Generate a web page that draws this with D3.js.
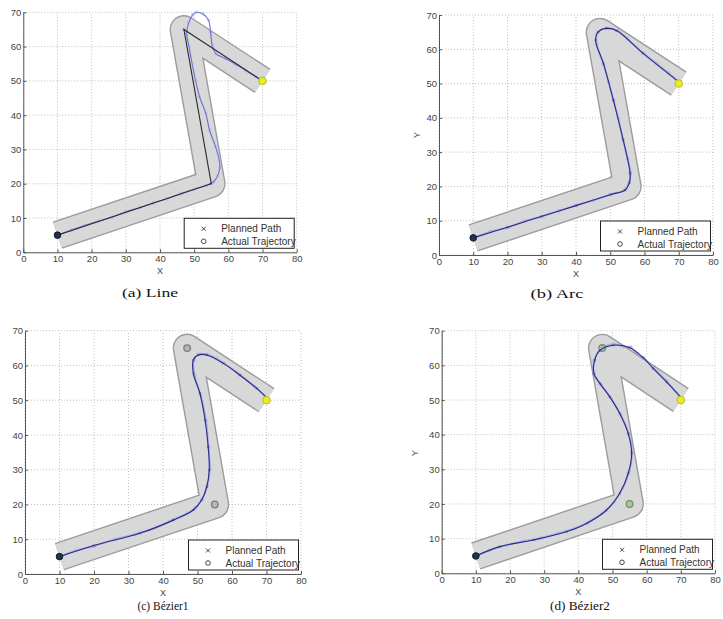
<!DOCTYPE html>
<html>
<head>
<meta charset="utf-8">
<script src="https://cdnjs.cloudflare.com/ajax/libs/d3/7.8.5/d3.min.js"></script>
<style>
  body { margin: 0; background: #fff; }
</style>
</head>
<body>
<div id="chart"></div>
<script>
// ---- data ----
var xTicks = [0, 10, 20, 30, 40, 50, 60, 70, 80];
var yTicks = [0, 10, 20, 30, 40, 50, 60, 70];
var captions = ["(a) Line", "(b) Arc", "(c) Bézier1", "(d) Bézier2"];
var legendLabels = ["Planned Path", "Actual Trajectory"];

// corridor centre line (also the planned path of the "Line" case)
var corridor = [[10, 5], [55, 20], [47, 65], [70, 50]];
var startPoint = [10, 5];
var goalPoint = [70, 50];
var controlPoints = [[47, 65], [55, 20]];

var actualLine = [[10, 5], [14, 6.5], [18, 7.8], [22, 9.1], [26, 10.3], [30, 11.8], [34, 13], [38, 14.4],
  [42, 15.6], [46, 17.1], [50, 18.4], [53.5, 19.5], [55.6, 20.5], [56.8, 22.2], [57.5, 24.6], [57.3, 27],
  [56.3, 30.7], [54.5, 35.6], [53.4, 40.5], [51.6, 45.3], [50.4, 50.1], [49.4, 55], [48.5, 60], [47.8, 64],
  [48.4, 67], [49.5, 69.2], [50.6, 70], [52.6, 69.5], [54.2, 67.7], [54.8, 64.2], [55.3, 60.3], [56.4, 57.9],
  [59, 56.6], [62, 54.9], [65, 53.1], [68, 51.2], [70, 50]];

var plannedArc = [[10, 5], [20, 8.1], [30, 11.3], [40, 14.4], [50, 17.6], [54.3, 18.9], [55.6, 21.1],
  [55.8, 23.8], [53.8, 33.5], [50.9, 45.2], [48, 55.9], [45.7, 62.7], [46.5, 65.1], [49, 66.1],
  [51.9, 65.4], [59.6, 58.8], [70.5, 50.1]];
var actualArc = [[10, 5], [15, 6.8], [20, 8.0], [25, 9.9], [30, 11.2], [35, 12.9], [40, 14.5], [45, 15.9],
  [50, 17.7], [54.2, 19.0], [55.5, 21.2], [55.9, 24], [55.1, 28], [53.6, 34], [52.3, 40], [51, 45],
  [49.5, 50.5], [48.1, 55.5], [46, 61.5], [46.3, 64.8], [48.8, 66.2], [52, 65.5], [55, 63.1], [59.5, 59],
  [63.5, 55.9], [67, 53.1], [70.5, 50.1]];

var plannedBezier1 = [[10, 5], [20, 8.2], [33.3, 11.7], [43, 15.5], [48.8, 18.4], [51.2, 21.3],
  [52.7, 25.1], [53.4, 29.9], [53.1, 36.6], [52.2, 44.3], [50.7, 52], [48.8, 57.7], [48.8, 61.6],
  [50.2, 63], [52.7, 63], [57.5, 60.6], [62.3, 57.2], [67.2, 53.4], [70.5, 50.3]];
var actualBezier1 = [[10, 5], [15, 6.8], [20, 8.0], [26, 10.0], [32, 11.5], [38, 13.4], [43, 15.7],
  [47, 17.4], [49.5, 19.2], [51.4, 21.6], [52.8, 25.3], [53.6, 30.2], [53.2, 36.2], [52.5, 44],
  [50.9, 51.5], [49.2, 57], [48.9, 61.3], [50.3, 63.2], [52.8, 63.2], [55.5, 62], [58, 60.4],
  [62.2, 57.4], [66.5, 53.9], [70.5, 50.3]];

var plannedBezier2 = [[10, 5], [17, 7.7], [26.8, 9.6], [36.5, 12], [42.4, 14.4], [48.2, 18.2],
  [52.1, 23.1], [54.6, 28.8], [55.6, 34.6], [54.6, 40.3], [52.1, 46.1], [49.2, 50.9], [46.3, 54.8],
  [44.6, 57.6], [44.8, 61.5], [46.3, 64.3], [50.2, 65.8], [55.1, 65.1], [58.9, 62.3], [61.9, 59.1],
  [65.8, 55.2], [70.4, 50.3]];
var actualBezier2 = [[10, 5], [14, 6.6], [19, 8.1], [24, 9.2], [29, 10.2], [34, 11.5], [39, 13.0],
  [43, 14.8], [47, 17.3], [50.5, 20.6], [53, 24.6], [54.9, 29.5], [55.7, 35], [54.8, 40.2], [52.4, 45.8],
  [49.5, 50.6], [46.6, 54.5], [44.5, 57.4], [44.6, 61.3], [46.4, 64.5], [50.3, 66.1], [53.2, 65.4],
  [55.3, 65.3], [57.2, 63.2], [59.1, 62.1], [62, 59.3], [65.9, 55.4], [70.4, 50.3]];

var planned = [corridor, plannedArc, plannedBezier1, plannedBezier2];
var actual = [actualLine, actualArc, actualBezier1, actualBezier2];
var showControls = [false, false, true, true];

// ---- layout of the four axes ----
var panels = [
  {left: 23.3, right: 296.7, top: 12.3, bottom: 252.3, cap: [150, 297], xlab: 22, ylab: null},
  {left: 439, right: 713, top: 15, bottom: 255, cap: [557, 298], xlab: 22, ylab: [417, 135]},
  {left: 25, right: 301, top: 330.7, bottom: 574, cap: [163, 610], xlab: 22, ylab: null},
  {left: 441.7, right: 715, top: 330.7, bottom: 573.3, cap: [580, 610], xlab: 22, ylab: [415, 453]}
];
var capWidths = [56, 53, 51, 60];

var svg = d3.select("#chart").append("svg")
  .attr("width", 723).attr("height", 619)
  .style("font-family", "'Liberation Sans', Arial, sans-serif");

panels.forEach(function(p, i) {
  var x = d3.scaleLinear().domain([0, 80]).range([p.left, p.right]);
  var y = d3.scaleLinear().domain([0, 70]).range([p.bottom, p.top]);
  var unit = x(1) - x(0);
  var g = svg.append("g");

  // grid
  g.append("g").selectAll("line").data(xTicks).join("line")
    .attr("x1", d => x(d)).attr("x2", d => x(d))
    .attr("y1", y(0)).attr("y2", y(70))
    .attr("stroke", "#b0b0b0").attr("stroke-width", 0.8).attr("stroke-dasharray", "1,2");
  g.append("g").selectAll("line").data(yTicks).join("line")
    .attr("x1", x(0)).attr("x2", x(80))
    .attr("y1", d => y(d)).attr("y2", d => y(d))
    .attr("stroke", "#b0b0b0").attr("stroke-width", 0.8).attr("stroke-dasharray", "1,2");

  // corridor
  var line = d3.line().x(d => x(d[0])).y(d => y(d[1]));
  g.append("path").attr("d", line(corridor))
    .attr("fill", "none").attr("stroke", "#9c9c9c")
    .attr("stroke-width", 8 * unit + 1.4)
    .attr("stroke-linejoin", "round").attr("stroke-linecap", "butt");
  g.append("path").attr("d", line(corridor))
    .attr("fill", "none").attr("stroke", "#d8d8d8")
    .attr("stroke-width", 8 * unit - 1.4)
    .attr("stroke-linejoin", "round").attr("stroke-linecap", "butt");

  // control points
  if (showControls[i]) {
    g.append("g").selectAll("circle").data(controlPoints).join("circle")
      .attr("cx", d => x(d[0])).attr("cy", d => y(d[1])).attr("r", 3.3)
      .attr("fill", i === 3 ? "#b4c2a4" : "#b8b8b0")
      .attr("stroke", i === 3 ? "#6f9462" : "#7d7d78").attr("stroke-width", 1.3);
  }

  // actual trajectory
  var smooth = d3.line().x(d => x(d[0])).y(d => y(d[1])).curve(d3.curveCatmullRom.alpha(0.5));
  g.append("path").attr("d", smooth(actual[i]))
    .attr("fill", "none").attr("stroke", i === 0 ? "#5a60d6" : "#8a90ea")
    .attr("stroke-width", i === 0 ? 1.1 : 1.8).attr("opacity", i === 0 ? 0.9 : 0.6);
  g.append("g").selectAll("circle").data(actual[i]).join("circle")
    .attr("cx", d => x(d[0])).attr("cy", d => y(d[1])).attr("r", 1.5)
    .attr("fill", "none").attr("stroke", "#a0a6f0").attr("stroke-width", 0.6).attr("opacity", 0.8);

  // planned path
  var plannedPath = i === 0 ? line : smooth;
  g.append("path").attr("d", plannedPath(planned[i]))
    .attr("fill", "none").attr("stroke", i === 0 ? "#2a2a2a" : "#2a2a8c").attr("stroke-width", 1.1);
  g.append("g").selectAll("path").data(planned[i]).join("path")
    .attr("d", d => {
      var cx = x(d[0]), cy = y(d[1]), s = 1.1;
      return `M${cx - s},${cy - s}L${cx + s},${cy + s}M${cx - s},${cy + s}L${cx + s},${cy - s}`;
    })
    .attr("stroke", "#2a2a70").attr("stroke-width", 0.7).attr("opacity", 0.7);

  // start and goal
  g.append("circle").attr("cx", x(startPoint[0])).attr("cy", y(startPoint[1])).attr("r", 3.3)
    .attr("fill", "#22324f").attr("stroke", "#101828").attr("stroke-width", 1);
  g.append("circle").attr("cx", x(goalPoint[0])).attr("cy", y(goalPoint[1])).attr("r", 3.8)
    .attr("fill", "#ecec1a").attr("stroke", "#b9b93a").attr("stroke-width", 1);

  // axes
  var xAxis = g.append("g").attr("transform", `translate(0,${y(0)})`)
    .call(d3.axisBottom(x).tickValues(xTicks).tickSizeInner(-3).tickSizeOuter(0).tickPadding(3));
  var yAxis = g.append("g").attr("transform", `translate(${x(0)},0)`)
    .call(d3.axisLeft(y).tickValues(yTicks).tickSizeInner(-3).tickSizeOuter(0).tickPadding(2));
  [xAxis, yAxis].forEach(a => {
    a.select(".domain").attr("stroke", "#555");
    a.selectAll(".tick line").attr("stroke", "#555");
    a.selectAll("text").attr("fill", "#444").style("font-size", "9.5px")
      .style("font-family", "'Liberation Sans', Arial, sans-serif");
  });

  g.append("text").attr("x", x(40)).attr("y", y(0) + p.xlab)
    .attr("text-anchor", "middle").attr("fill", "#444").style("font-size", "9px").text("X");
  if (p.ylab) {
    g.append("text").attr("transform", `translate(${p.ylab[0]},${p.ylab[1]}) rotate(-90)`)
      .attr("text-anchor", "middle").attr("dy", "0.35em")
      .attr("fill", "#444").style("font-size", "9.5px").text("Y");
  }

  // legend
  var lw = 110, lh = 30;
  var lx = x(80) - 2.5 - lw, ly = y(0) - 4 - lh;
  var leg = g.append("g").attr("transform", `translate(${lx},${ly})`);
  leg.append("rect").attr("width", lw).attr("height", lh)
    .attr("fill", "#fff").attr("stroke", "#222").attr("stroke-width", 1);
  leg.append("path").attr("d", "M17.5,8.5L21.5,12.5M17.5,12.5L21.5,8.5")
    .attr("stroke", "#333").attr("stroke-width", 0.9);
  leg.append("circle").attr("cx", 19.5).attr("cy", 23).attr("r", 2.3)
    .attr("fill", "none").attr("stroke", "#333").attr("stroke-width", 0.9);
  leg.selectAll("text").data(legendLabels).join("text")
    .attr("x", 37).attr("y", (d, k) => 10.5 + k * 12.5).attr("dy", "0.35em")
    .attr("fill", "#333").style("font-size", "10px").text(d => d);

  // caption
  svg.append("text").attr("x", p.cap[0]).attr("y", p.cap[1])
    .attr("text-anchor", "middle")
    .attr("textLength", capWidths[i]).attr("lengthAdjust", "spacingAndGlyphs")
    .style("font-family", "'Liberation Serif', 'Times New Roman', serif")
    .style("font-size", "13px").attr("fill", "#111").text(captions[i]);
});
</script>
</body>
</html>
